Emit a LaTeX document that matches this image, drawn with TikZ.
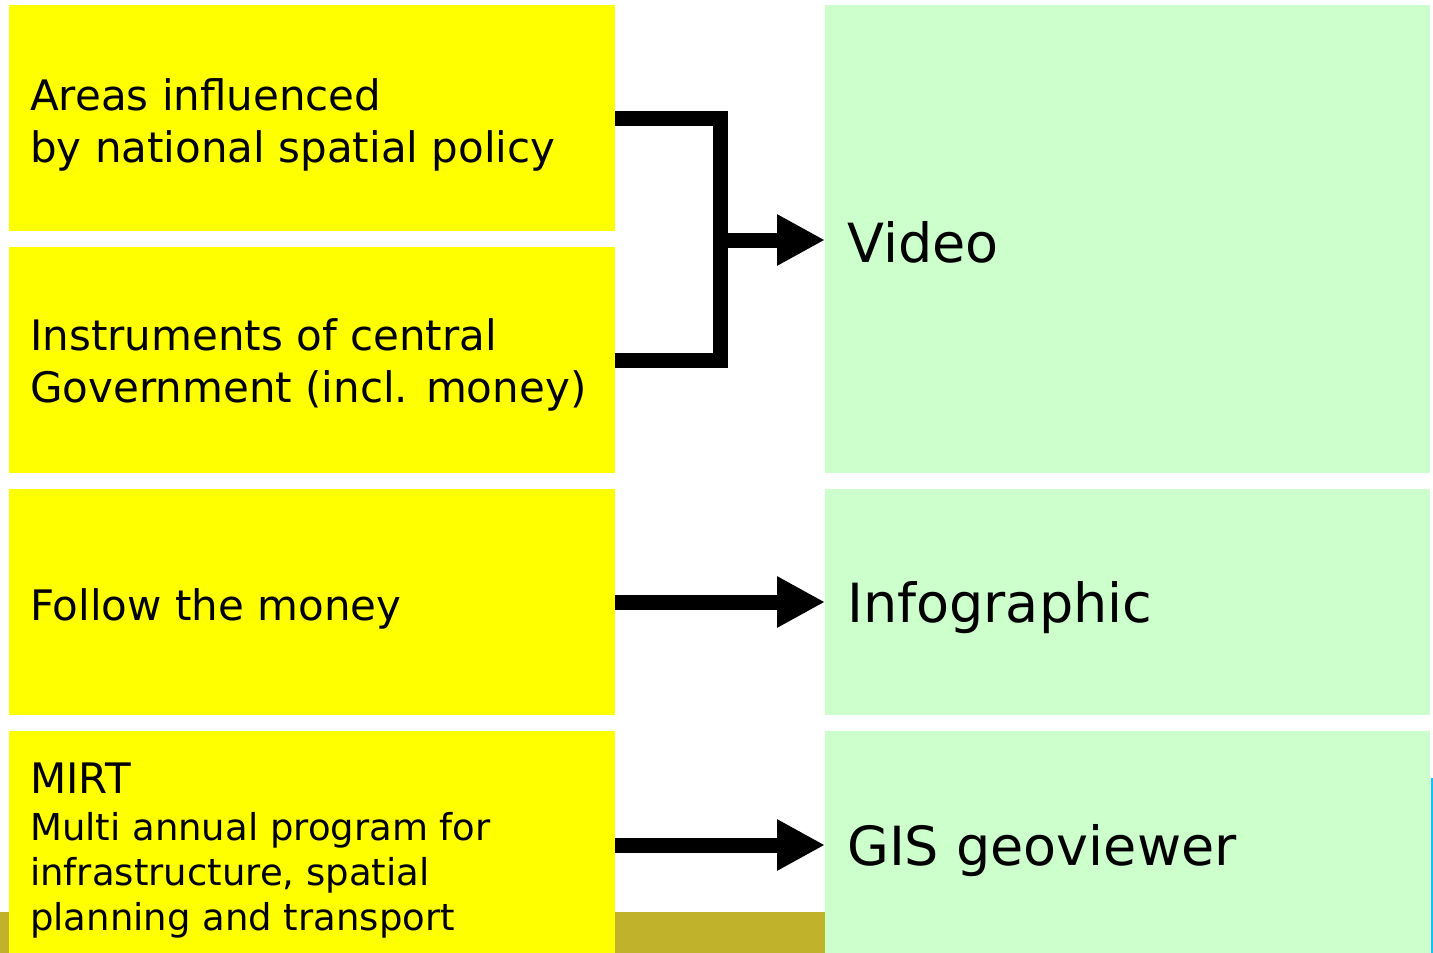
\documentclass[tikz,border=0pt]{standalone}
\usepackage{fontspec}
\setmainfont{DejaVu Sans}
\usetikzlibrary{arrows.meta}
\definecolor{yel}{RGB}{255,255,0}
\definecolor{grn}{RGB}{204,255,204}
\definecolor{olive}{RGB}{192,178,42}
\definecolor{cyanl}{RGB}{0,204,255}
\begin{document}
\begin{tikzpicture}[x=1pt,y=-1pt,
  ybox/.style={fill=yel,draw=none,inner sep=0,outer sep=0,anchor=north west},
  gbox/.style={fill=grn,draw=none,inner sep=0,outer sep=0,anchor=north west},
  txt/.style={anchor=base west,inner sep=0,font=\fontsize{42}{52}\selectfont,align=left},
  big/.style={anchor=base west,inner sep=0,font=\fontsize{54}{60}\selectfont},
  conn/.style={line width=15pt},
  arr/.style={line width=15pt,-{Triangle[length=48pt,width=48pt]}}]
\useasboundingbox (0,0) rectangle (1433,953);
\fill[white] (0,0) rectangle (1433,953);
\fill[olive] (0,912) rectangle (826,953);
\fill[cyanl] (1430.5,778) rectangle (1433,953);
\node[ybox,minimum width=606pt,minimum height=226pt] (y1) at (9,5) {};
\node[ybox,minimum width=606pt,minimum height=226pt] (y2) at (9,247) {};
\node[ybox,minimum width=606pt,minimum height=226pt] (y3) at (9,489) {};
\node[ybox,minimum width=606pt,minimum height=222pt] (y4) at (9,731) {};
\node[gbox,minimum width=605pt,minimum height=468pt] (g1) at (825,5) {};
\node[gbox,minimum width=605pt,minimum height=226pt] (g2) at (825,489) {};
\node[gbox,minimum width=605pt,minimum height=222pt] (g3) at (825,731) {};
\node[txt] (t1) at (30,162) {Areas influenced\\by national spatial policy};
\node[txt] (t2) at (30,402) {Instruments of central\\Government (incl. money)};
\node[txt] (t3) at (30,620) {Follow the money};
\node[txt] (t4a) at (30,793) {MIRT};
\node[txt,font=\fontsize{37}{45}\selectfont] (t4b) at (30,930) {Multi annual program for\\infrastructure, spatial\\planning and transport};
\node[big] (v) at (847,262) {Video};
\node[big] (i) at (847,622) {Infographic};
\node[big] (g) at (847,865) {GIS geoviewer};
\coordinate (j1) at (615,118.5);
\coordinate (j2) at (615,360);
\draw[conn,line cap=butt] (j1) -| (720,368) ;
\draw[conn] (j2) -- (727,360);
\draw[arr] (720,240) -- (g1.west |- 0,240);
\draw[arr] (y3.east |- 0,602) -- (g2.west |- 0,602);
\draw[arr] (y4.east |- 0,845) -- (g3.west |- 0,845);
\end{tikzpicture}
\end{document}
